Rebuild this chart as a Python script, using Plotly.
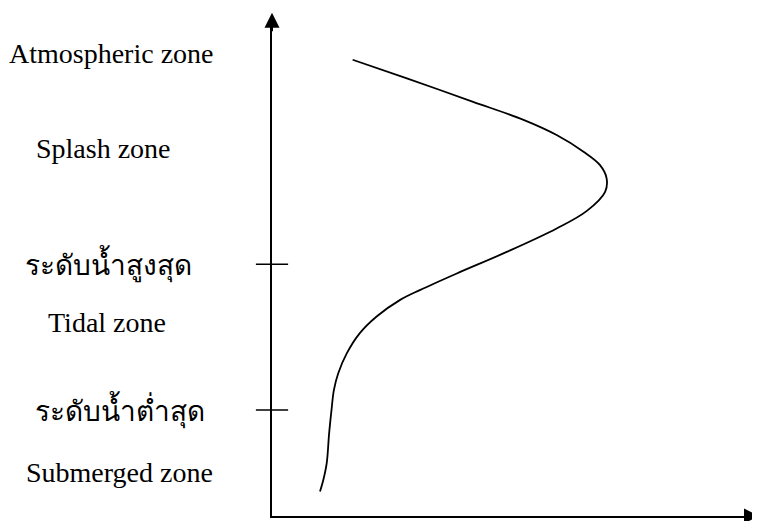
import plotly.graph_objects as go

# corrosion loss (relative) vs. elevation (relative)
loss = [16.8, 28.1, 41.9, 52.4, 59.3, 64.9, 68.3, 69.7, 69.4, 65.6, 59.3,
        48.9, 38.5, 30.8, 26.7, 21.8, 18.3, 15.6, 13.8, 12.9, 12.4, 11.9,
        11.4, 10.7, 10.0]
elev = [93.3, 89.5, 84.7, 81.0, 77.9, 74.5, 71.8, 69.1, 66.3, 62.4, 58.8,
        54.0, 49.6, 46.2, 44.2, 40.8, 37.4, 33.3, 29.2, 25.8, 21.7, 16.9,
        10.8, 7.4, 5.0]

# water levels (high / low tide)
level_names = ['ระดับน้ำสูงสุด', 'ระดับน้ำต่ำสุด']
level_elev = [51.5, 21.7]
level_x = [-0.341, -0.317]   # label centre, paper fraction

# zone labels
zone_names = ['Atmospheric zone', 'Splash zone', 'Tidal zone', 'Submerged zone']
zone_elev = [94.5, 75.1, 39.5, 8.8]
zone_x = [-0.334, -0.351, -0.343, -0.318]

serif = 'Liberation Serif, Times New Roman, serif'

fig = go.Figure()
fig.add_trace(go.Scatter(x=loss, y=elev, mode='lines',
                         line=dict(color='black', width=1.8, shape='spline', smoothing=1.0),
                         hoverinfo='skip', showlegend=False))
fig.add_trace(go.Scatter(x=[0] * len(level_elev), y=level_elev, mode='markers',
                         marker=dict(symbol='line-ew', size=23, line=dict(color='black', width=1.5)),
                         cliponaxis=False, hoverinfo='skip', showlegend=False))

annotations = []
for name, y, x in zip(zone_names + level_names, zone_elev + level_elev, zone_x + level_x):
    annotations.append(dict(x=x, y=y, xref='paper', yref='y', text=name, showarrow=False,
                            xanchor='center', yanchor='middle',
                            font=dict(family=serif, size=28, color='black')))
# arrow heads on both axes
annotations.append(dict(x=0, y=1.029, ax=0, ay=20, xref='paper', yref='paper',
                        text='', showarrow=True, arrowhead=2, arrowsize=1.5, arrowwidth=2,
                        arrowcolor='black', standoff=0))
annotations.append(dict(x=1.029, y=0, ax=-20, ay=0, xref='paper', yref='paper',
                        text='', showarrow=True, arrowhead=2, arrowsize=1.5, arrowwidth=2,
                        arrowcolor='black', standoff=0))

# page body has an 8px margin, so the figure is 8px smaller than the window
fig.update_layout(
    width=752, height=513,
    margin=dict(l=264, r=8, t=19, b=5, autoexpand=False),
    paper_bgcolor='white', plot_bgcolor='white',
    xaxis=dict(range=[0, 100], showline=True, linewidth=2, linecolor='black',
               showgrid=False, zeroline=False, showticklabels=False, ticks=''),
    yaxis=dict(range=[0, 100], showline=True, linewidth=2, linecolor='black',
               showgrid=False, zeroline=False, showticklabels=False, ticks=''),
    annotations=annotations,
)
fig.write_html("out.html")
